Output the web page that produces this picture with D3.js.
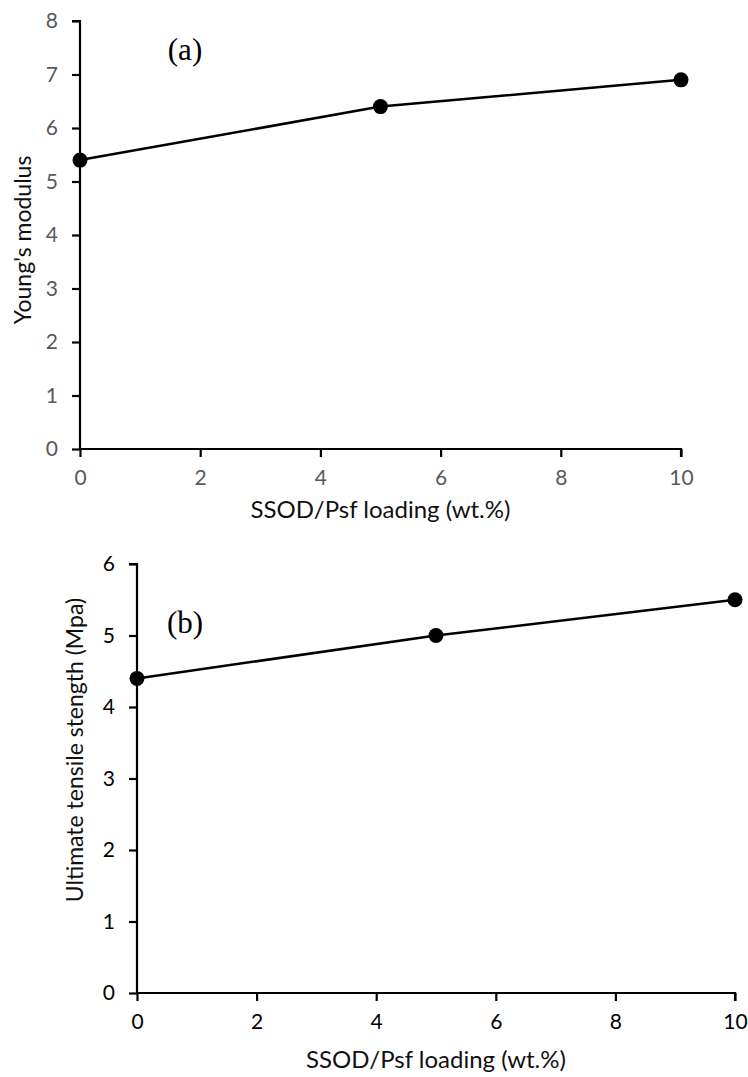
<!DOCTYPE html>
<html><head><meta charset="utf-8">
<script src="https://cdn.jsdelivr.net/npm/d3@7"></script>
<style>body{margin:0;background:#fff}svg{display:block}</style>
</head><body>
<svg id="c" width="748" height="1077"></svg>
<script>
const loading = [0, 5, 10];
const youngs = [5.4, 6.4, 6.9];
const uts = [4.4, 5.0, 5.5];
const xTicks = [0, 2, 4, 6, 8, 10];
const yTicksA = [0, 1, 2, 3, 4, 5, 6, 7, 8];
const yTicksB = [0, 1, 2, 3, 4, 5, 6];
const xTitle = "SSOD/Psf loading (wt.%)";

const svg = d3.select("#c");
const FONT = "Lato, 'Open Sans', sans-serif";

function panel(cfg) {
  const x = d3.scaleLinear().domain([0, 10]).range([cfg.x0, cfg.x1]);
  const y = d3.scaleLinear().domain([0, cfg.ymax]).range([cfg.y0, cfg.y1]);
  const g = svg.append("g");

  const xa = g.append("g").attr("transform", `translate(0,${cfg.y0})`)
    .call(d3.axisBottom(x).tickValues(xTicks).tickSize(8).tickPadding(13).tickFormat(d3.format("d")));
  const ya = g.append("g").attr("transform", `translate(${cfg.x0},0)`)
    .call(d3.axisLeft(y).tickValues(cfg.yTicks).tickSize(8).tickPadding(14).tickFormat(d3.format("d")));
  [xa, ya].forEach(a => {
    a.select(".domain").attr("stroke", "#000").attr("stroke-width", 2.2);
    a.selectAll(".tick line").attr("stroke", "#000").attr("stroke-width", 2.2);
    a.selectAll(".tick text").attr("fill", cfg.tickColor).style("font-family", FONT).style("font-size", "21px");
  });
  xa.select(".domain").attr("d", `M${cfg.x0},0H${cfg.x1}V8`);
  ya.select(".domain").attr("d", `M-8,${cfg.y1}H0V${cfg.y0}`);

  const line = d3.line().x((d, i) => x(loading[i])).y(d => y(d));
  g.append("path").datum(cfg.values).attr("d", line)
    .attr("fill", "none").attr("stroke", "#000").attr("stroke-width", 2.5);
  g.selectAll("circle.pt").data(cfg.values).join("circle")
    .attr("cx", (d, i) => x(loading[i])).attr("cy", d => y(d)).attr("r", 7.5).attr("fill", "#000");

  g.append("text").attr("x", (cfg.x0 + cfg.x1) / 2).attr("y", cfg.titleY)
    .attr("text-anchor", "middle").attr("fill", "#111")
    .style("font-family", FONT).style("font-size", "24px").text(xTitle);
  g.append("text").attr("transform", `translate(${cfg.ytX},${cfg.ytY}) rotate(-90)`)
    .attr("text-anchor", "middle").attr("dominant-baseline", "central").attr("fill", "#111")
    .style("font-family", FONT).style("font-size", "23px").text(cfg.yTitle);
  g.append("text").attr("x", cfg.lbX).attr("y", cfg.lbY)
    .attr("text-anchor", "middle").attr("dominant-baseline", "central").attr("fill", "#000")
    .style("font-family", "'Liberation Serif', 'DejaVu Serif', serif").style("font-size", "31px").text(cfg.label);
}

panel({x0: 80, x1: 681, y0: 449, y1: 21, ymax: 8, yTicks: yTicksA, values: youngs,
  tickColor: "#595959", titleY: 518, ytX: 22, ytY: 240, yTitle: "Young's modulus",
  lbX: 185, lbY: 49, label: "(a)"});
panel({x0: 137, x1: 735, y0: 993, y1: 564, ymax: 6, yTicks: yTicksB, values: uts,
  tickColor: "#000", titleY: 1068, ytX: 74, ytY: 750, yTitle: "Ultimate tensile stength (Mpa)",
  lbX: 185, lbY: 622, label: "(b)"});
</script>
</body></html>
